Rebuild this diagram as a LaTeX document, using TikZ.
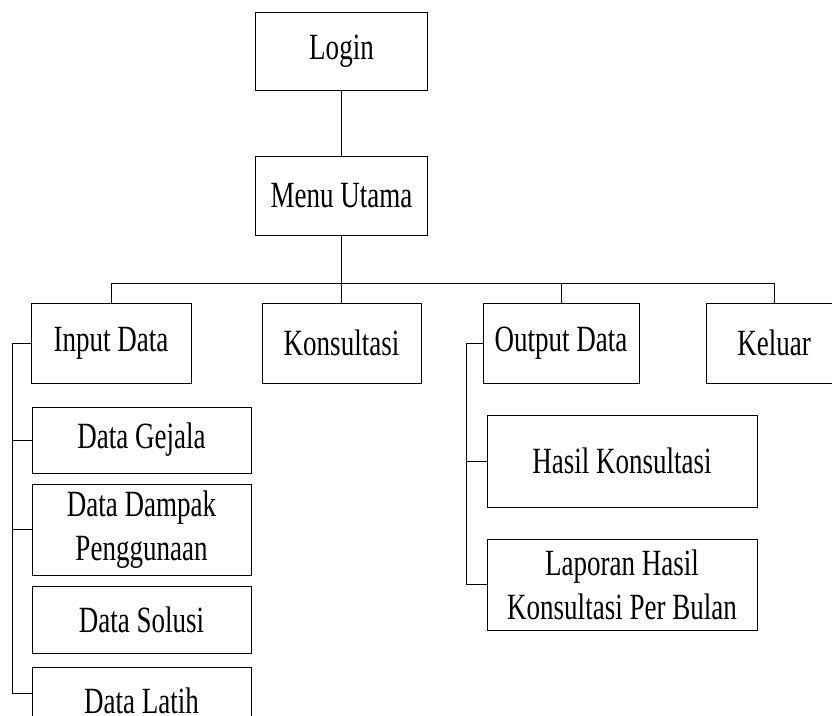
\documentclass[tikz,border=0pt]{standalone}
\usepackage{fontspec}
\setmainfont[FakeStretch=0.73]{Liberation Serif}
\begin{document}
\begin{tikzpicture}[x=1pt,y=-1pt,
  box/.style={draw, rectangle, inner sep=0pt, align=center, line width=1pt,
    font=\fontsize{37}{44}\selectfont},
  link/.style={draw, line width=1pt}]
\useasboundingbox (0,0) rectangle (832,715);
\clip (0,0) rectangle (832,715);

% top of the hierarchy
\node[box, minimum width=172, minimum height=78] (login) at (341.5,51) {Login};
\node[box, minimum width=172, minimum height=79] (menu) at (341.5,195.5) {Menu Utama};

% main menu entries
\node[box, minimum width=160, minimum height=80] (input) at (111,343) {Input Data};
\node[box, minimum width=159, minimum height=80] (kons) at (341.5,343) {Konsultasi};
\node[box, minimum width=156, minimum height=80] (output) at (561,343) {Output Data};
\node[box, minimum width=136, minimum height=80] (keluar) at (774,343) {Keluar};

% input data sub-menu
\node[box, minimum width=219, minimum height=66] (gejala) at (141.5,440) {Data Gejala};
\node[box, minimum width=219, minimum height=91] (dampak) at (141.5,529.5) {Data Dampak\\Penggunaan};
\node[box, minimum width=219, minimum height=67] (solusi) at (141.5,619.5) {Data Solusi};
\node[box, minimum width=219, minimum height=67] (latih) at (141.5,700.5) {Data Latih};

% output data sub-menu
\node[box, minimum width=270, minimum height=92] (hasil) at (622,461) {Hasil Konsultasi};
\node[box, minimum width=270, minimum height=91] (laporan) at (622,584.5) {Laporan Hasil\\Konsultasi Per Bulan};

% connectors
\coordinate (bus) at (0,283);
\coordinate (lspine) at (12,0);
\coordinate (rspine) at (466,0);

\draw[link] (login) -- (menu);
\draw[link] (menu.south) -- (kons.north);
\draw[link] (input.north) -- (input.north |- bus) -- (keluar.north |- bus) -- (keluar.north);
\draw[link] (output.north) -- (output.north |- bus);

\draw[link] (input.west) -- (input.west -| lspine) |- ([yshift=7pt]latih.west);
\draw[link] (gejala.west) -- (gejala.west -| lspine);
\draw[link] (dampak.west) -- (dampak.west -| lspine);

\draw[link] (output.west) -- (output.west -| rspine) |- (laporan.west);
\draw[link] (hasil.west) -- (hasil.west -| rspine);
\end{tikzpicture}
\end{document}
